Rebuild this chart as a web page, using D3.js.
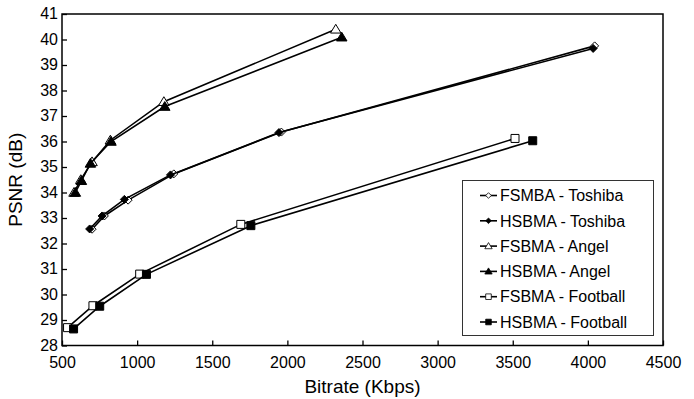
<!DOCTYPE html>
<html>
<head>
<meta charset="utf-8">
<script src="https://cdnjs.cloudflare.com/ajax/libs/d3/7.8.5/d3.min.js"></script>
<style>
  body { margin: 0; background: #fff; }
  svg text { font-family: "Liberation Sans", Arial, sans-serif; fill: #000; }
</style>
</head>
<body>
<div id="chart"></div>
<script>
// series names, in legend order
const seriesNames = ["FSMBA - Toshiba", "HSBMA - Toshiba", "FSBMA - Angel", "HSBMA - Angel", "FSBMA - Football", "HSBMA - Football"];
const markerTypes = ["diamond", "diamond", "triangle", "triangle", "square", "square"];
const markerFilled = [false, true, false, true, false, true];

// bitrate (Kbps) per point
const fsToshibaX = [700, 782, 940, 1244, 1960, 4045];
const hsToshibaX = [684, 767, 915, 1222, 1944, 4035];
const fsAngelX = [580, 625, 700, 822, 1178, 2322];
const hsAngelX = [589, 629, 689, 826, 1184, 2362];
const fsFootballX = [537, 706, 1017, 1690, 3515];
const hsFootballX = [577, 751, 1062, 1757, 3633];

// PSNR (dB) per point
const fsToshibaY = [32.56, 33.08, 33.70, 34.73, 36.37, 39.75];
const hsToshibaY = [32.57, 33.08, 33.73, 34.69, 36.35, 39.65];
const fsAngelY = [34.0, 34.5, 35.2, 36.05, 37.56, 40.4];
const hsAngelY = [34.0, 34.46, 35.14, 36.0, 37.37, 40.09];
const fsFootballY = [28.70, 29.56, 30.80, 32.75, 36.12];
const hsFootballY = [28.65, 29.54, 30.79, 32.70, 36.03];

const xTicks = [500, 1000, 1500, 2000, 2500, 3000, 3500, 4000, 4500];
const yTicks = [28, 29, 30, 31, 32, 33, 34, 35, 36, 37, 38, 39, 40, 41];

const seriesX = [fsToshibaX, hsToshibaX, fsAngelX, hsAngelX, fsFootballX, hsFootballX];
const seriesY = [fsToshibaY, hsToshibaY, fsAngelY, hsAngelY, fsFootballY, hsFootballY];

const w = 694, h = 399;
const margin = {top: 14, right: 31, bottom: 53.5, left: 62};

const svg = d3.select("#chart").append("svg")
    .attr("width", w)
    .attr("height", h);

const x = d3.scaleLinear().domain([500, 4500]).range([margin.left, w - margin.right]);
const y = d3.scaleLinear().domain([28, 41]).range([h - margin.bottom, margin.top]);

// axes
const xAxis = svg.append("g")
    .attr("transform", "translate(0," + (h - margin.bottom) + ")")
    .call(d3.axisBottom(x).tickValues(xTicks).tickFormat(d3.format("d")).tickSizeInner(-5).tickSizeOuter(0).tickPadding(11));
const yAxis = svg.append("g")
    .attr("transform", "translate(" + margin.left + ",0)")
    .call(d3.axisLeft(y).tickValues(yTicks).tickFormat(d3.format("d")).tickSizeInner(-5).tickSizeOuter(0).tickPadding(4));

[xAxis, yAxis].forEach(function(a){
    a.select(".domain").remove();
    a.selectAll("line").attr("stroke", "#000").attr("stroke-width", 1.3);
    a.selectAll("text").attr("font-size", "16px").attr("fill", "#000");
});
yAxis.selectAll("text").attr("dy", "0.3em");

// plot frame
svg.append("rect")
    .attr("x", margin.left)
    .attr("y", margin.top)
    .attr("width", w - margin.left - margin.right)
    .attr("height", h - margin.top - margin.bottom)
    .attr("fill", "none")
    .attr("stroke", "#000")
    .attr("stroke-width", 1.5);

// axis titles
svg.append("text")
    .attr("transform", "translate(22," + ((margin.top + h - margin.bottom) / 2) + ") rotate(-90)")
    .attr("text-anchor", "middle")
    .attr("font-size", "19px")
    .text("PSNR (dB)");

svg.append("text")
    .attr("x", (margin.left + w - margin.right) / 2)
    .attr("y", 393)
    .attr("text-anchor", "middle")
    .attr("font-size", "19px")
    .text("Bitrate (Kbps)");

function markerPath(type, s){
    if (type === "diamond") return "M0," + (-s) + "L" + s + ",0L0," + s + "L" + (-s) + ",0Z";
    if (type === "triangle") return "M0," + (-s) + "L" + (s * 1.05) + "," + (s * 0.75) + "L" + (-s * 1.05) + "," + (s * 0.75) + "Z";
    return "M" + (-s) + "," + (-s) + "H" + s + "V" + s + "H" + (-s) + "Z";
}
const markerSize = {diamond: 4, triangle: 5, square: 4};

const line = d3.line()
    .x(function(d){ return x(d[0]); })
    .y(function(d){ return y(d[1]); });

const series = seriesNames.map(function(name, i){
    return {name: name, type: markerTypes[i], filled: markerFilled[i],
            points: seriesX[i].map(function(v, j){ return [v, seriesY[i][j]]; })};
});

const plot = svg.append("g");
series.forEach(function(s){
    const g = plot.append("g");
    g.append("path")
        .attr("d", line(s.points))
        .attr("fill", "none")
        .attr("stroke", "#000")
        .attr("stroke-width", 1.6);
    g.selectAll("path.mark")
        .data(s.points)
        .enter().append("path")
        .attr("class", "mark")
        .attr("transform", function(d){ return "translate(" + x(d[0]) + "," + y(d[1]) + ")"; })
        .attr("d", markerPath(s.type, markerSize[s.type]))
        .attr("fill", s.filled ? "#000" : "#fff")
        .attr("stroke", "#000")
        .attr("stroke-width", 1);
});

// legend
const legend = svg.append("g");
legend.append("rect")
    .attr("x", 462.5)
    .attr("y", 180.5)
    .attr("width", 191)
    .attr("height", 155)
    .attr("fill", "#fff")
    .attr("stroke", "#333")
    .attr("stroke-width", 1);

const items = legend.selectAll("g.item")
    .data(series)
    .enter().append("g")
    .attr("class", "item")
    .attr("transform", function(d, i){ return "translate(0," + (195.5 + i * 25.3) + ")"; });

items.append("line")
    .attr("x1", 480).attr("x2", 497)
    .attr("stroke", "#000").attr("stroke-width", 1.6);
items.append("path")
    .attr("transform", "translate(488.5,0)")
    .attr("d", function(d){ return markerPath(d.type, markerSize[d.type] * 0.7); })
    .attr("fill", function(d){ return d.filled ? "#000" : "#fff"; })
    .attr("stroke", "#000")
    .attr("stroke-width", 0.8);
items.append("text")
    .attr("x", 500)
    .attr("dy", "0.36em")
    .attr("font-size", "16px")
    .text(function(d){ return d.name; });
</script>
</body>
</html>
